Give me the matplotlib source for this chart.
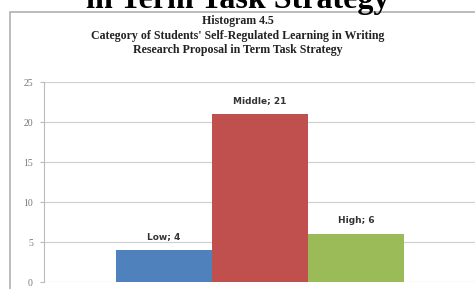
import matplotlib.pyplot as plt
from matplotlib.patches import Rectangle

categories = ["Low", "Middle", "High"]
values = [4, 21, 6]
colors = ["#4F81BD", "#C0504D", "#9BBB59"]
yticks = [0, 5, 10, 15, 20, 25]

fig = plt.figure(figsize=(4.75, 2.89), dpi=100)

# cut-off heading from the document page
fig.text(0.5, 1.0 - 8 / 289, "in Term Task Strategy", ha="center", va="baseline",
         fontsize=23, fontweight="bold", family="Liberation Serif")

# chart frame
fig.patches.append(Rectangle((10 / 475, -0.01), 1.0, 1 - 12 / 289 + 0.01,
                             transform=fig.transFigure, fill=False,
                             edgecolor="#b0b0b0", lw=1.2))

title = "Histogram 4.5\nCategory of Students' Self-Regulated Learning in Writing\nResearch Proposal in Term Task Strategy"
fig.text(0.5, 1 - 15 / 289, title, ha="center", va="top", fontsize=8.6,
         fontweight="bold", family="Liberation Serif", linespacing=1.3, color="#222222")

ax = fig.add_axes([44 / 475, 1 - 282 / 289, 432 / 475, 200 / 289])
x = range(len(categories))
bars = ax.bar(x, values, width=1.0, color=colors, zorder=3)
for i, (c, v) in enumerate(zip(categories, values)):
    ax.text(i, v + 1.1, f"{c}; {v}", ha="center", va="bottom", fontsize=6.5,
            fontweight="bold", color="#333333")

ax.set_xlim(-1.25, 3.25)
ax.set_ylim(0, 25)
ax.set_yticks(yticks)
ax.set_yticklabels([str(t) for t in yticks], fontsize=7, color="#777777",
                   family="Liberation Serif")
ax.set_xticks([])
ax.grid(axis="y", color="#d0d0d0", lw=0.9, zorder=0)
for s in ["top", "right", "bottom"]:
    ax.spines[s].set_visible(False)
ax.spines["left"].set_color("#bbbbbb")
ax.tick_params(axis="y", length=3, color="#bbbbbb", pad=5)

fig.savefig("out.png", dpi=100)
